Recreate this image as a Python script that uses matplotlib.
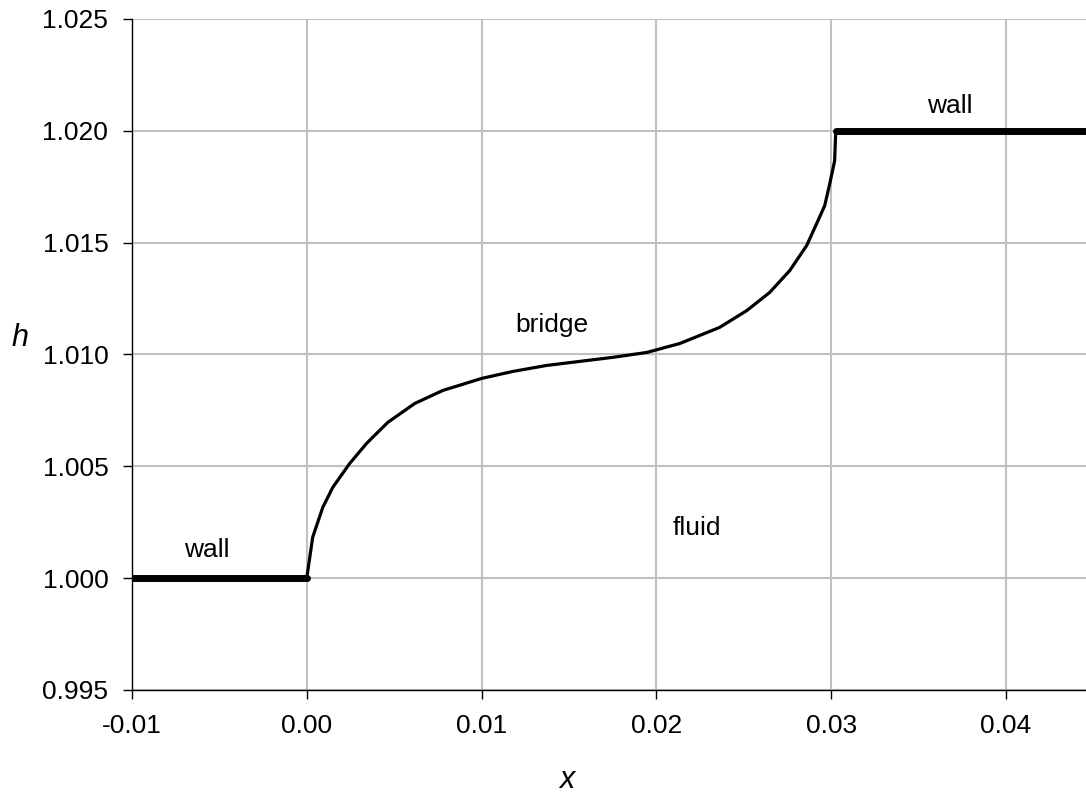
import matplotlib
matplotlib.use("Agg")
import matplotlib.pyplot as plt

plt.rcParams['font.family'] = ['Liberation Sans', 'DejaVu Sans']

# bridge profile h(x)
bridge_x = [0.0, 0.00034, 0.00092, 0.00149, 0.00246, 0.00343, 0.00463, 0.00618,
            0.00778, 0.01001, 0.01178, 0.01373, 0.01562, 0.01750, 0.01945,
            0.02134, 0.02362, 0.02517, 0.02648, 0.02763, 0.02860, 0.02917,
            0.02963, 0.02992, 0.03020, 0.03026, 0.03030]
bridge_h = [1.0, 1.00183, 1.00317, 1.00406, 1.00513, 1.00603, 1.00696, 1.00781,
            1.00839, 1.00893, 1.00924, 1.00951, 1.00969, 1.00987, 1.01009,
            1.01049, 1.01121, 1.01196, 1.01277, 1.01375, 1.01487, 1.01585,
            1.01665, 1.01763, 1.01866, 1.01991, 1.020]

# walls
wall1_x = [-0.01, 0.0]
wall1_h = [1.0, 1.0]
wall2_x = [0.0303, 0.05]
wall2_h = [1.020, 1.020]

x_ticks = [-0.01, 0.0, 0.01, 0.02, 0.03, 0.04]
y_ticks = [0.995, 1.000, 1.005, 1.010, 1.015, 1.020, 1.025]

fig = plt.figure(figsize=(10.86, 7.97), dpi=100)
ax = fig.add_axes([0.1215, 0.1343, 0.8785, 0.8419])

ax.plot(bridge_x, bridge_h, color='black', lw=2.3, zorder=3)
ax.plot(wall1_x, wall1_h, color='black', lw=5, solid_capstyle='round', zorder=4)
ax.plot(wall2_x, wall2_h, color='black', lw=5, solid_capstyle='round', zorder=4)

ax.set_xlim(-0.01, 0.04458)
ax.set_ylim(0.995, 1.025)
ax.set_xticks(x_ticks)
ax.set_xticklabels(['%.2f' % v for v in x_ticks])
ax.set_yticks(y_ticks)
ax.set_yticklabels(['%.3f' % v for v in y_ticks])
ax.grid(True, color='#c0c0c0', lw=1.5)
ax.set_axisbelow(True)
for s in ('top', 'right'):
    ax.spines[s].set_visible(False)
for s in ('left', 'bottom'):
    ax.spines[s].set_linewidth(1.0)
ax.tick_params(direction='out', length=6.5, width=1, labelsize=19, pad=10.5)

ax.text(-0.0057, 1.00125, 'wall', fontsize=19, ha='center', va='center')
ax.text(0.0368, 1.0211, 'wall', fontsize=19, ha='center', va='center')
ax.text(0.0140, 1.0113, 'bridge', fontsize=19, ha='center', va='center')
ax.text(0.0223, 1.00223, 'fluid', fontsize=19, ha='center', va='center')

fig.text(20 / 1086, 1 - 338 / 797, 'h', fontsize=22, style='italic', ha='center', va='center')
fig.text(567 / 1086, 1 - 780 / 797, 'x', fontsize=22, style='italic', ha='center', va='center')

fig.savefig('out.png', dpi=100)
